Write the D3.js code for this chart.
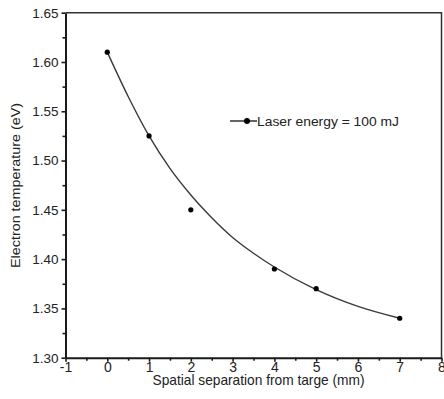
<!DOCTYPE html>
<html>
<head>
<meta charset="utf-8">
<script src="https://cdn.jsdelivr.net/npm/d3@7"></script>
<style>
  html, body { margin: 0; padding: 0; background: #fff; }
  svg { display: block; font-family: "Liberation Sans", Arial, sans-serif; }
</style>
</head>
<body>
<svg id="chart" width="444" height="399"></svg>
<script>
// measured points
const separation = [0, 1, 2, 4, 5, 7];
const temperature = [1.61, 1.525, 1.45, 1.39, 1.37, 1.34];

// fitted curve
const fitX = [0, 0.5, 1, 1.5, 2, 2.5, 3, 3.5, 4, 5, 6, 7];
const fitY = [1.61, 1.565, 1.525, 1.492, 1.465, 1.442, 1.422, 1.406, 1.392, 1.369, 1.352, 1.34];

const xTicks = [-1, 0, 1, 2, 3, 4, 5, 6, 7, 8];
const yTicks = [1.30, 1.35, 1.40, 1.45, 1.50, 1.55, 1.60, 1.65];
const legendLabel = 'Laser energy = 100 mJ';

const svg = d3.select('#chart');
const plotL = 65.5, plotR = 441.5, plotT = 12.7, plotB = 357.7;
const ink = '#1a1a1a';

const x = d3.scaleLinear().domain([-1, 8]).range([plotL, plotR]);
const y = d3.scaleLinear().domain([1.30, 1.65]).range([plotB, plotT]);

// frame top / right
svg.append('path')
  .attr('d', `M${plotL},${plotT}H${plotR}V${plotB}`)
  .attr('fill', 'none')
  .attr('stroke', '#333')
  .attr('stroke-width', 1.5);

// minor ticks
const xMinor = d3.range(-0.5, 8, 1);
const yMinor = d3.range(1.325, 1.65, 0.05);

const xAxis = svg.append('g')
  .attr('transform', `translate(0,${plotB})`)
  .call(d3.axisBottom(x).tickValues(xTicks).tickFormat((d) => String(d)).tickSize(4).tickSizeOuter(0));
svg.append('g')
  .attr('transform', `translate(0,${plotB})`)
  .call(d3.axisBottom(x).tickValues(xMinor).tickFormat('').tickSize(3).tickSizeOuter(0))
  .select('.domain').remove();

const yAxis = svg.append('g')
  .attr('transform', `translate(${plotL},0)`)
  .call(d3.axisLeft(y).tickValues(yTicks).tickFormat(d3.format('.2f')).tickSize(4).tickSizeOuter(0));
svg.append('g')
  .attr('transform', `translate(${plotL},0)`)
  .call(d3.axisLeft(y).tickValues(yMinor).tickFormat('').tickSize(3).tickSizeOuter(0))
  .select('.domain').remove();

svg.selectAll('.domain').attr('stroke', ink).attr('stroke-width', 2);
svg.selectAll('.tick line').attr('stroke', ink).attr('stroke-width', 1.6);
svg.selectAll('.tick text').attr('fill', '#222').attr('font-size', 13.5);
xAxis.selectAll('.tick text').attr('font-size', 14).attr('y', 4).attr('dy', '0.71em');
yAxis.selectAll('.tick text').attr('x', -7);

// fitted curve
const line = d3.line()
  .x((d, i) => x(fitX[i]))
  .y((d) => y(d))
  .curve(d3.curveMonotoneX);

svg.append('path')
  .datum(fitY)
  .attr('d', line)
  .attr('fill', 'none')
  .attr('stroke', '#3a3a3a')
  .attr('stroke-width', 1.4);

svg.append('g')
  .selectAll('circle')
  .data(temperature)
  .enter()
  .append('circle')
  .attr('cx', (d, i) => x(separation[i]))
  .attr('cy', (d) => y(d))
  .attr('r', 2.6)
  .attr('fill', '#000');

// legend
const lg = svg.append('g').attr('transform', 'translate(230,121)');
lg.append('line').attr('x1', 0).attr('x2', 27).attr('stroke', '#222').attr('stroke-width', 1.4);
lg.append('circle').attr('cx', 17).attr('r', 3).attr('fill', '#000');
lg.append('text')
  .attr('x', 27)
  .attr('y', 4.5)
  .attr('font-size', 13)
  .attr('textLength', 142)
  .attr('lengthAdjust', 'spacingAndGlyphs')
  .attr('fill', '#222')
  .text(legendLabel);

// axis titles
svg.append('text')
  .attr('x', 152.5)
  .attr('y', 385)
  .attr('font-size', 15)
  .attr('textLength', 212)
  .attr('lengthAdjust', 'spacingAndGlyphs')
  .attr('fill', '#222')
  .text('Spatial separation from targe (mm)');

svg.append('text')
  .attr('transform', 'translate(19.5,185.5) rotate(-90)')
  .attr('x', -82.5)
  .attr('font-size', 12.5)
  .attr('textLength', 165)
  .attr('lengthAdjust', 'spacingAndGlyphs')
  .attr('fill', '#222')
  .text('Electron temperature (eV)');
</script>
</body>
</html>
